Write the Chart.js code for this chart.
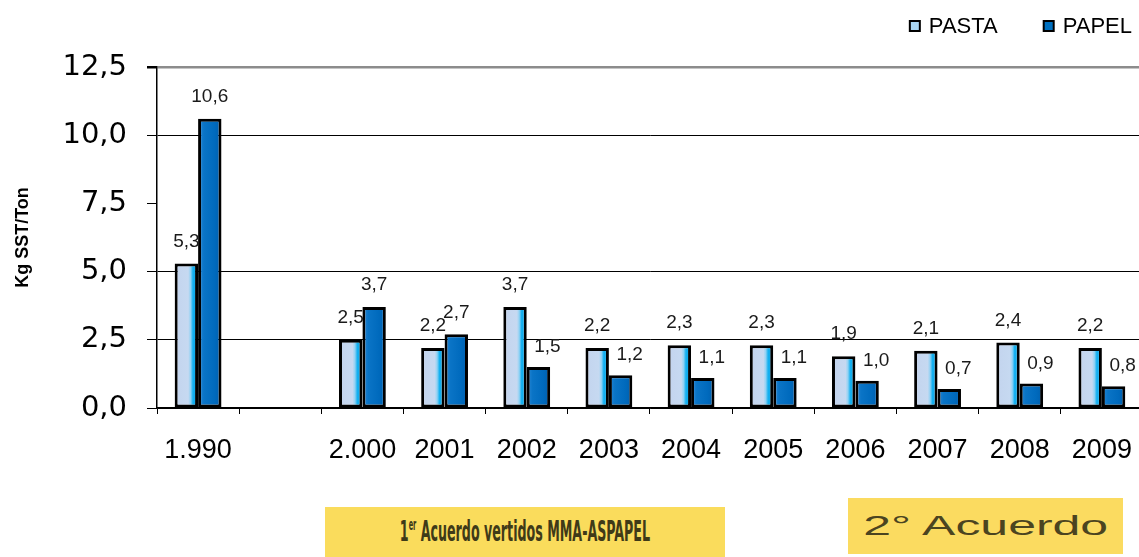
<!DOCTYPE html>
<html>
<head>
<meta charset="utf-8">
<script src="https://cdn.jsdelivr.net/npm/chart.js@4/dist/chart.umd.min.js"></script>
<style>
  html, body { margin: 0; padding: 0; background: #fff; overflow: hidden; }
  #wrap { position: relative; width: 1139px; height: 557px; overflow: hidden; }
  #chart-box { position: absolute; left: 0; top: 0; width: 1152px; height: 557px; }
  .note {
    position: absolute; background: #fadc5c; overflow: hidden;
    display: flex; align-items: center; justify-content: center;
  }
  .note span { display: inline-block; white-space: nowrap; transform-origin: center center; }
  #note1 { left: 325px; top: 507px; width: 400px; height: 50px; }
  #note1 span { font-family: 'Liberation Sans Narrow', 'DejaVu Sans Condensed', sans-serif; font-size: 29px; font-weight: bold; color: #3f3a18; margin-top: -2px; }
  #note2 { left: 848px; top: 498px; width: 275px; height: 56px; background: #fbdb60; }
  #note2 span { font-family: 'Liberation Sans', Arial, sans-serif; font-size: 28px; color: #4b4420; }
</style>
</head>
<body>
<div id="wrap">
  <div id="chart-box"><canvas id="bar-chart"></canvas></div>
  <div class="note" id="note1"><span data-w="250">1<sup style="font-size:15px">er</sup> Acuerdo vertidos MMA-ASPAPEL</span></div>
  <div class="note" id="note2"><span data-w="245">2° Acuerdo</span></div>
</div>
<script>
const years = ['1.990', '', '2.000', '2001', '2002', '2003', '2004', '2005', '2006', '2007', '2008', '2009'];
const pasta = [5.3, null, 2.5, 2.2, 3.7, 2.2, 2.3, 2.3, 1.9, 2.1, 2.4, 2.2];
const papel = [10.6, null, 3.7, 2.7, 1.5, 1.2, 1.1, 1.1, 1.0, 0.7, 0.9, 0.8];
const yTicks = [0, 2.5, 5, 7.5, 10, 12.5];

const CAT_PCT = 0.57;
const fmt = v => v.toFixed(1).replace('.', ',');

const STOPS = {
  PASTA: [[0, '#c3d4ee'], [0.58, '#c6d9f1'], [0.68, '#92d2f4'], [0.78, '#14b0f0'], [1, '#0ca6e8']],
  PAPEL: [[0, '#2a88d6'], [0.25, '#0a74c6'], [0.7, '#006abd'], [1, '#005ead']],
};

// gradient across each bar, worked out from the category scale
function barFill(ctx) {
  const chart = ctx.chart;
  const xs = chart.scales.x;
  const name = ctx.dataset.label;
  if (!xs || !chart.chartArea || ctx.dataIndex === undefined) return STOPS[name][1][1];
  const center = xs.getPixelForValue(ctx.dataIndex);
  const bw = (xs.width / years.length) * CAT_PCT / 2;
  const left = ctx.datasetIndex === 0 ? center - bw : center;
  const g = chart.ctx.createLinearGradient(left, 0, left + bw, 0);
  STOPS[name].forEach(([o, c]) => g.addColorStop(o, c));
  return g;
}

const valueLabels = {
  id: 'valueLabels',
  afterDatasetsDraw(chart) {
    const ctx = chart.ctx;
    ctx.save();
    ctx.font = '19px "Liberation Sans", Arial, sans-serif';
    ctx.fillStyle = '#1a1a1a';
    ctx.textAlign = 'center';
    ctx.textBaseline = 'middle';
    chart.data.datasets.forEach((ds, di) => {
      chart.getDatasetMeta(di).data.forEach((bar, i) => {
        const v = ds.data[i];
        if (v == null) return;
        const small = di === 1 && v < 2;
        ctx.fillText(fmt(v), bar.x + (small ? 9 : 0), bar.y - (small ? 20 : 22));
      });
    });
    ctx.restore();
  }
};

const topLegend = {
  id: 'topLegend',
  afterDraw(chart) {
    const ctx = chart.ctx;
    ctx.save();
    ctx.font = '22px "Liberation Sans", Arial, sans-serif';
    ctx.textBaseline = 'middle';
    ctx.textAlign = 'left';
    let right = 1132;
    const y = 26;
    const items = chart.data.datasets.slice().reverse();
    items.forEach(ds => {
      const tw = ctx.measureText(ds.label).width;
      const tx = right - tw;
      const bx = tx - 19;
      ctx.fillStyle = ds.legendColor;
      ctx.fillRect(bx, y - 5, 10, 10);
      ctx.lineWidth = 2;
      ctx.strokeStyle = '#000';
      ctx.strokeRect(bx, y - 5, 10, 10);
      ctx.fillStyle = '#000';
      ctx.fillText(ds.label, tx, y + 1);
      right = bx - 46;
    });
    ctx.restore();
  }
};

const barStyle = {
  backgroundColor: barFill,
  borderColor: '#000',
  borderWidth: 3,
  borderSkipped: false,
  categoryPercentage: CAT_PCT,
  barPercentage: 1,
};

const ctx = document.getElementById('bar-chart').getContext('2d');
new Chart(ctx, {
  type: 'bar',
  data: {
    labels: years,
    datasets: [
      { label: 'PASTA', data: pasta, legendColor: '#a9d6f3', ...barStyle },
      { label: 'PAPEL', data: papel, legendColor: '#0070c0', ...barStyle },
    ],
  },
  options: {
    responsive: true,
    maintainAspectRatio: false,
    animation: false,
    layout: { padding: { top: 67, left: 12, right: 2, bottom: 0 } },
    plugins: {
      legend: { display: false },
      tooltip: { enabled: false },
      colors: { enabled: false },
    },
    scales: {
      x: {
        afterFit: s => { s.height = 149; },
        grid: { display: true, drawOnChartArea: false, color: '#000', tickLength: 6, offset: true },
        border: { color: '#000', width: 1.5 },
        ticks: {
          autoSkip: false, maxRotation: 0, padding: 20, color: '#000',
          font: { family: '"Liberation Sans", Arial, sans-serif', size: 27 },
        },
      },
      y: {
        min: 0,
        max: 12.5,
        afterFit: s => { s.width = 145; },
        afterBuildTicks: s => { s.ticks = yTicks.map(v => ({ value: v })); },
        grid: {
          color: c => c.tick && c.tick.value === 12.5 ? '#8c8c8c' : (c.tick && c.tick.value === 7.5 ? 'rgba(0,0,0,0)' : '#000'),
          lineWidth: c => c.tick && c.tick.value === 12.5 ? 2.5 : 1,
          tickColor: '#000',
          tickLength: 10,
        },
        border: { color: '#000', width: 1.5 },
        ticks: {
          padding: 20, color: '#000',
          font: { family: '"DejaVu Sans", sans-serif', size: 29 },
          callback: v => fmt(v),
        },
        title: {
          display: true, text: 'Kg SST/Ton', color: '#000',
          font: { family: '"Liberation Sans", Arial, sans-serif', size: 18, weight: 'bold' },
          padding: { top: 0, bottom: 0 },
        },
      },
    },
  },
  plugins: [valueLabels, topLegend],
});

document.querySelectorAll('.note span').forEach(el => {
  const target = +el.dataset.w;
  const w = el.getBoundingClientRect().width;
  el.style.transform = 'scaleX(' + (target / w).toFixed(3) + ')';
});
</script>
</body>
</html>
